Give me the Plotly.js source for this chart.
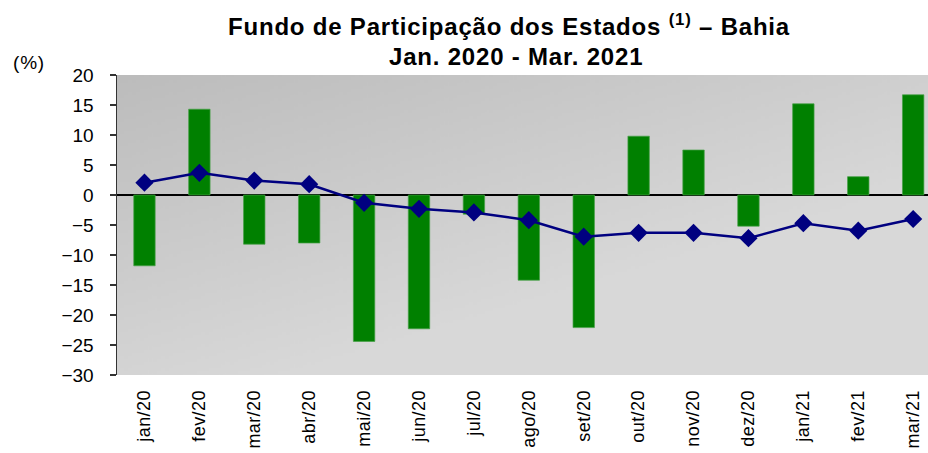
<!DOCTYPE html>
<html>
<head>
<meta charset="utf-8">
<script src="https://cdn.plot.ly/plotly-3.0.1.min.js"></script>
<style>
html,body{margin:0;padding:0;background:#fff;}
#chart{width:928px;height:453px;}
.xtick text{letter-spacing:0.4px;}
text.annotation-text{letter-spacing:0.8px;}
</style>
</head>
<body>
<div id="chart"></div>
<script>
const categories = ["jan/20","fev/20","mar/20","abr/20","mai/20","jun/20","jul/20","ago/20","set/20","out/20","nov/20","dez/20","jan/21","fev/21","mar/21"];
const monthlyValues = [-11.8, 14.3, -8.2, -8.0, -24.4, -22.3, -3.2, -14.2, -22.1, 9.8, 7.5, -5.2, 15.2, 3.05, 16.7];
const cumulativeValues = [2.05, 3.7, 2.4, 1.8, -1.3, -2.3, -2.9, -4.2, -6.95, -6.3, -6.3, -7.2, -4.7, -5.95, -4.0];
const yTicks = [20, 15, 10, 5, 0, -5, -10, -15, -20, -25, -30];
const boundaryTicks = [0.5,1.5,2.5,3.5,4.5,5.5,6.5,7.5,8.5,9.5,10.5,11.5,12.5,13.5];
const titleLine1 = 'Fundo de Participação dos Estados <sup>(1)</sup> – Bahia';
const titleLine2 = 'Jan. 2020 - Mar. 2021';
const unitLabel = '(%)';

// gradient background
const cv = document.createElement('canvas');
cv.width = 400; cv.height = 200;
const ctx = cv.getContext('2d');
const g = ctx.createLinearGradient(0, 0, 80, 200);
g.addColorStop(0, '#bcbcbc');
g.addColorStop(1, '#d8d8d8');
ctx.fillStyle = g;
ctx.fillRect(0, 0, 400, 200);
const bg = cv.toDataURL();

const xr = [-0.5, 14.27];
const font = "Liberation Sans, Arial, sans-serif";

const traces = [
  {type:'bar', x:categories, y:monthlyValues, width:0.39,
   marker:{color:'#008000', line:{color:'rgba(70,160,70,0.7)', width:1}},
   hoverinfo:'skip', showlegend:false},
  {type:'scatter', mode:'lines+markers', x:categories, y:cumulativeValues,
   line:{color:'#000080', width:2.5},
   marker:{symbol:'diamond', size:14, color:'#000080'},
   hoverinfo:'skip', showlegend:false}
];

const layout = {
  width:928, height:453,
  margin:{l:117, r:0, t:75, b:78},
  paper_bgcolor:'#ffffff',
  plot_bgcolor:'rgba(0,0,0,0)',
  font:{family:font, color:'#000'},
  images:[{source:bg, xref:'paper', yref:'paper', x:0, y:1, sizex:1, sizey:1,
           sizing:'stretch', layer:'below'}],
  xaxis:{type:'category', range:xr, showgrid:false, zeroline:false, showline:false,
         ticks:'outside', ticklen:7, tickcolor:'rgba(0,0,0,0)', tickangle:-90,
         tickfont:{size:18, color:'#000'}, fixedrange:true},
  xaxis2:{type:'linear', range:xr, overlaying:'x', anchor:'free', position:0.6,
          showgrid:false, zeroline:false, showline:false, showticklabels:false,
          tickmode:'array', tickvals:boundaryTicks, ticks:'outside', ticklen:7,
          tickwidth:1.2, tickcolor:'#000'},
  xaxis3:{type:'linear', range:xr, overlaying:'x', anchor:'free', position:0.6,
          showgrid:false, zeroline:false, showline:false, showticklabels:false,
          tickmode:'array', tickvals:boundaryTicks, ticks:'inside', ticklen:7,
          tickwidth:1.2, tickcolor:'#000'},
  yaxis:{range:[-30, 20], tickmode:'array', tickvals:yTicks, showgrid:false,
         zeroline:true, zerolinecolor:'#000', zerolinewidth:1.5,
         showline:true, linecolor:'#333', linewidth:1.5,
         ticks:'outside', ticklen:6, tickwidth:1.3, tickcolor:'#333',
         ticklabelstandoff:12, tickfont:{size:19, color:'#000'}, fixedrange:true},
  yaxis2:{range:[-30, 20], overlaying:'y', side:'left', tickmode:'array', tickvals:yTicks,
          showgrid:false, zeroline:false, showline:false, showticklabels:false,
          ticks:'inside', ticklen:6, tickwidth:1.3, tickcolor:'#333'},
  annotations:[
    {text:'<b>'+titleLine1+'</b>', xref:'paper', yref:'paper', x:(509-117)/811, y:(375-25)/300,
     xanchor:'center', yanchor:'middle', showarrow:false,
     font:{family:font, size:24, color:'#000'}},
    {text:'<b>'+titleLine2+'</b>', xref:'paper', yref:'paper', x:(516-117)/811, y:(375-57)/300,
     xanchor:'center', yanchor:'middle', showarrow:false,
     font:{family:font, size:24, color:'#000'}},
    {text:unitLabel, xref:'paper', yref:'paper', x:-106/811, y:(375-62)/300,
     xanchor:'left', yanchor:'middle', showarrow:false,
     font:{family:font, size:19, color:'#000'}}
  ]
};

Plotly.newPlot('chart', traces, layout, {displayModeBar:false, staticPlot:true});
</script>
</body>
</html>
